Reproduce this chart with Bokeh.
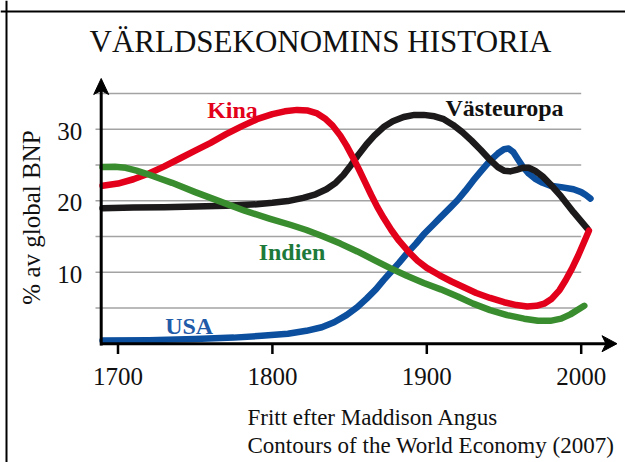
from bokeh.plotting import figure
from bokeh.models import Range1d, Span
from bokeh.core.properties import value
from bokeh.embed import file_html
from bokeh.resources import INLINE

# ---------------- data ----------------
kina_year = [1690, 1700, 1710, 1720, 1730, 1740, 1750, 1760, 1770, 1780, 1790, 1800, 1808,
             1816, 1823, 1829, 1834, 1839, 1844, 1848, 1852, 1856, 1860, 1864, 1868, 1872,
             1877, 1882, 1888, 1894, 1900, 1908, 1916, 1924, 1932, 1941, 1950, 1958, 1965,
             1971, 1976, 1981, 1986, 1990, 1994, 1998, 2002, 2005]
kina_val = [22.1, 22.4, 23.0, 23.8, 24.8, 25.9, 27.0, 28.1, 29.3, 30.4, 31.4, 32.1, 32.5,
            32.7, 32.6, 32.2, 31.5, 30.5, 29.1, 27.7, 26.1, 24.4, 22.6, 20.8, 19.1, 17.6,
            15.9, 14.4, 12.9, 11.6, 10.6, 9.6, 8.7, 7.9, 7.1, 6.4, 5.8, 5.4, 5.2,
            5.3, 5.6, 6.3, 7.5, 8.9, 10.5, 12.3, 14.3, 15.8]

europa_year = [1690, 1710, 1730, 1750, 1770, 1790, 1800, 1810, 1820, 1828, 1835, 1841, 1846,
               1851, 1856, 1861, 1866, 1872, 1878, 1885, 1892, 1898, 1905, 1911, 1917, 1923,
               1929, 1935, 1941, 1946, 1950, 1954, 1958, 1962, 1966, 1970, 1975, 1980, 1987,
               1995, 2004]
europa_val = [18.95, 19.05, 19.1, 19.2, 19.3, 19.5, 19.7, 19.95, 20.4, 20.9, 21.6, 22.5, 23.6,
              25.0, 26.5, 27.9, 29.1, 30.3, 31.1, 31.7, 32.0, 32.0, 31.8, 31.4, 30.6, 29.6,
              28.4, 27.1, 25.7, 24.7, 24.2, 24.1, 24.3, 24.6, 24.6, 24.2, 23.4, 22.3, 20.6,
              18.4, 16.1]

usa_year = [1690, 1720, 1750, 1775, 1793, 1810, 1822, 1832, 1840, 1848, 1855, 1861, 1867,
            1872, 1877, 1882, 1887, 1893, 1898, 1904, 1909, 1915, 1920, 1925, 1930, 1935,
            1941, 1946, 1950, 1953, 1956, 1959, 1962, 1966, 1970, 1975, 1980, 1987, 1995,
            2000, 2003, 2006]
usa_val = [0.45, 0.5, 0.65, 0.85, 1.1, 1.4, 1.8, 2.3, 3.0, 4.0, 5.1, 6.3, 7.6,
           8.9, 10.1, 11.3, 12.6, 14.0, 15.3, 16.6, 17.7, 19.0, 20.1, 21.4, 22.8, 24.1,
           25.6, 26.6, 27.2, 27.3, 26.8, 25.8, 24.8, 23.8, 23.1, 22.5, 22.1, 21.9, 21.6,
           21.2, 20.8, 20.3]

indien_year = [1690, 1698, 1705, 1712, 1718, 1727, 1735, 1750, 1766, 1782, 1798, 1812, 1822,
               1833, 1844, 1855, 1866, 1876, 1887, 1898, 1909, 1920, 1930, 1941, 1952, 1963,
               1972, 1980, 1987, 1993, 2002]
indien_val = [24.7, 24.75, 24.6, 24.2, 23.8, 23.1, 22.5, 21.2, 19.9, 18.6, 17.5, 16.6, 15.9,
              15.0, 14.0, 12.9, 11.7, 10.6, 9.5, 8.5, 7.6, 6.6, 5.6, 4.7, 4.0, 3.5,
              3.2, 3.2, 3.5, 4.1, 5.3]

y_ticks = [10, 20, 30]
y_tick_labels = ["10", "20", "30"]
grid_values = [5, 10, 15, 20, 25, 30, 35]
x_ticks = [1700, 1800, 1900, 2000]
x_tick_labels = ["1700", "1800", "1900", "2000"]

title_text = "VÄRLDSEKONOMINS HISTORIA"
y_label = "% av global BNP"
source_lines = ["Fritt efter Maddison Angus", "Contours of the World Economy (2007)"]

# ---------------- layout ----------------
W, H = 625, 462
PX_PER_YEAR = 1.544
PX_PER_UNIT = 7.15
X0 = 1700 - 117.5 / PX_PER_YEAR          # canvas x = 0
X1 = X0 + W / PX_PER_YEAR
Y1 = 343.2 / PX_PER_UNIT                 # canvas y = 0
Y0 = Y1 - H / PX_PER_UNIT
K = 0.3                                  # baseline correction (fraction of font size)


def X(px):   # canvas pixel -> data year
    return X0 + px / PX_PER_YEAR


def Y(py):   # canvas pixel -> data value
    return Y1 - py / PX_PER_UNIT


def YT(py, fs):   # baseline pixel -> data value for a text of size fs
    return Y(py - K * fs)


SERIF = value("Liberation Serif")

p = figure(width=W, height=H, x_range=Range1d(X0, X1), y_range=Range1d(Y0, Y1),
           output_backend="svg", toolbar_location=None, min_border=0,
           x_axis_location=None, y_axis_location=None, tools="")
p.grid.visible = False
p.outline_line_color = None
p.background_fill_color = "white"
p.border_fill_color = "white"

# frame border (top and left visible)
p.add_layout(Span(location=Y(11), dimension="width", line_color="black", line_width=2))
p.add_layout(Span(location=X(6), dimension="height", line_color="black", line_width=2))

# gridlines
p.segment(x0=[X(95)] * len(grid_values), x1=[2000] * len(grid_values),
          y0=grid_values, y1=grid_values, line_color="#a3a3a3", line_width=1.5)

# series
p.line(usa_year, usa_val, line_color="#0B4F9E", line_width=6.5, line_cap="round", line_join="round")
p.line(europa_year, europa_val, line_color="#1C1A1A", line_width=6.5, line_cap="round", line_join="round")
p.line(kina_year, kina_val, line_color="#E3001B", line_width=6.5, line_cap="round", line_join="round")
p.line(indien_year, indien_val, line_color="#3A8D2E", line_width=6.5, line_cap="round", line_join="round")

# axes
ax = X(100.7)
p.segment(x0=[ax], y0=[Y(345)], x1=[ax], y1=[Y(88)], line_color="black", line_width=3)
p.segment(x0=[X(99.5)], y0=[0], x1=[X(606)], y1=[0], line_color="black", line_width=3)
# arrow heads (notched)
ya = Y(343.2)
p.patches(
    xs=[[ax, X(100.7 + 7.5), ax, X(100.7 - 7.5)],
        [X(616.5), X(601.5), X(605.5), X(601.5)]],
    ys=[[Y(78), Y(94), Y(90), Y(94)],
        [ya, Y(343.2 - 8), ya, Y(343.2 + 8)]],
    fill_color="black", line_color="black", line_width=1)

# x ticks
p.segment(x0=x_ticks, x1=x_ticks, y0=[Y(343.2)] * 4, y1=[Y(353.5)] * 4,
          line_color="black", line_width=2.5)

# tick labels
p.text(x=[X(81.7)] * len(y_ticks),
       y=[t - (9.6 - K * 25) / PX_PER_UNIT for t in y_ticks], text=y_tick_labels,
       text_font=SERIF, text_font_size="25px", text_align="right", text_baseline="alphabetic",
       text_color="#111111")
p.text(x=x_ticks, y=[YT(383.3, 25)] * len(x_ticks), text=x_tick_labels,
       text_font=SERIF, text_font_size="25px", text_align="center", text_baseline="alphabetic",
       text_color="#111111")

# axis label (rotated: baseline shift goes sideways)
p.text(x=[X(38 - K * 25)], y=[Y(217)], text=[y_label], angle=1.5707963,
       text_font=SERIF, text_font_size="25px", text_align="center", text_baseline="alphabetic",
       text_color="#111111")

# title
p.text(x=[X(320)], y=[YT(50, 31)], text=[title_text], text_font=SERIF, text_font_size="31px",
       text_align="center", text_baseline="alphabetic", text_color="#111111")

# series labels
p.text(x=[X(232), X(504), X(291.5), X(188.7)],
       y=[YT(117, 24), YT(114.3, 24), YT(258.3, 24), YT(332.5, 24)],
       text=["Kina", "Västeuropa", "Indien", "USA"],
       text_color=["#E3001B", "#111111", "#1E7A3A", "#1F5BA8"],
       text_font=SERIF, text_font_size="24px", text_font_style="bold",
       text_align="center", text_baseline="alphabetic")

# source note
p.text(x=[X(247)] * 2, y=[YT(424, 23), YT(452, 23)], text=source_lines, text_font=SERIF,
       text_font_size="23px", text_align="left", text_baseline="alphabetic", text_color="#111111")

open("out.html", "w").write(file_html(p, INLINE))
